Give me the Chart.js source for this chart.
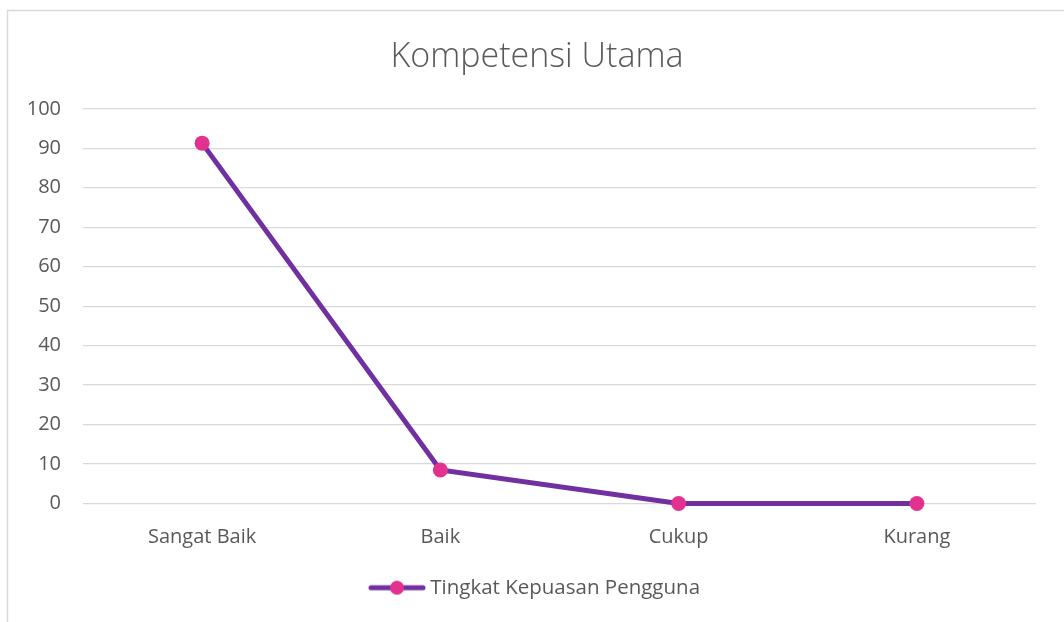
<!DOCTYPE html>
<html>
<head>
<meta charset="utf-8">
<script src="https://cdn.jsdelivr.net/npm/chart.js@4.4.1/dist/chart.umd.min.js"></script>
<style>
html,body{margin:0;padding:0;background:#fff;overflow:hidden;}
#wrap{position:relative;width:1064px;height:622px;}
</style>
</head>
<body>
<div id="wrap"><canvas id="c" width="1064" height="622"></canvas></div>
<script>
const chartTitle = 'Kompetensi Utama';
const categories = ['Sangat Baik', 'Baik', 'Cukup', 'Kurang'];
const seriesName = 'Tingkat Kepuasan Pengguna';
const seriesValues = [91.3, 8.5, 0, 0];
const yTicks = [0, 10, 20, 30, 40, 50, 60, 70, 80, 90, 100];

const LINE = '#7030a0';
const MARK = '#e3318f';
const TEXT = '#595959';
const FONT = '"Open Sans", Lato, sans-serif';

// legend symbol: line with a dot
const sym = document.createElement('canvas');
sym.width = 58; sym.height = 16;
(function(){
  const g = sym.getContext('2d');
  g.strokeStyle = LINE; g.lineWidth = 5; g.lineCap = 'round';
  g.beginPath(); g.moveTo(3, 8); g.lineTo(55, 8); g.stroke();
  g.fillStyle = MARK;
  g.beginPath(); g.arc(29, 8, 7, 0, Math.PI*2); g.fill();
})();

const borderPlugin = {
  id: 'outerBorder',
  beforeDraw(chart){
    const ctx = chart.ctx;
    ctx.save();
    ctx.strokeStyle = '#d9d9d9';
    ctx.lineWidth = 1.5;
    ctx.strokeRect(7.5, 10.5, 1100, 700);
    ctx.restore();
  }
};

// centre title and legend on the outer frame rather than on the padded area
const centrePlugin = {
  id: 'centreBlocks',
  afterLayout(chart){
    const shift = 19;
    [chart.titleBlock, chart.legend].forEach(b => {
      if (b) { b.left += shift; b.right += shift; }
    });
  }
};

new Chart(document.getElementById('c'), {
  type: 'line',
  data: {
    labels: categories,
    datasets: [{
      label: seriesName,
      data: seriesValues,
      borderColor: LINE,
      borderWidth: 5,
      backgroundColor: MARK,
      pointBackgroundColor: MARK,
      pointBorderColor: MARK,
      pointBorderWidth: 0,
      pointRadius: 7.5,
      pointHoverRadius: 7.5,
      pointStyle: 'circle',
      tension: 0,
      fill: false,
      clip: false
    }]
  },
  options: {
    responsive: false,
    animation: false,
    devicePixelRatio: 1,
    layout: { padding: { left: 0, right: 28, top: 0, bottom: 14 } },
    plugins: {
      tooltip: { enabled: false },
      title: {
        display: true,
        text: chartTitle,
        color: TEXT,
        font: { family: FONT, size: 34, weight: 300 },
        padding: { top: 37, bottom: 31 }
      },
      legend: {
        display: true,
        position: 'bottom',
        labels: {
          color: TEXT,
          font: { family: FONT, size: 20.5 },
          usePointStyle: true,
          pointStyleWidth: 46,
          padding: 10,
          generateLabels(chart){
            return [{
              text: seriesName,
              pointStyle: sym,
              fillStyle: MARK,
              strokeStyle: LINE,
              lineWidth: 0,
              hidden: false,
              datasetIndex: 0,
              fontColor: TEXT
            }];
          }
        }
      }
    },
    scales: {
      x: {
        offset: true,
        grid: { display: false, drawTicks: false },
        border: { display: false },
        ticks: { color: TEXT, font: { family: FONT, size: 20 }, padding: 22, maxRotation: 0 },
        afterFit(s){ s.height = 64; }
      },
      y: {
        min: 0, max: 100,
        afterBuildTicks(s){ s.ticks = yTicks.map(v => ({ value: v })); },
        grid: { color: '#d9d9d9', lineWidth: 1.3, drawTicks: false },
        border: { display: false },
        ticks: { color: TEXT, font: { family: FONT, size: 20 }, padding: 22 },
        afterFit(s){ s.width = 83; }
      }
    }
  },
  plugins: [borderPlugin, centrePlugin]
});
</script>
</body>
</html>
